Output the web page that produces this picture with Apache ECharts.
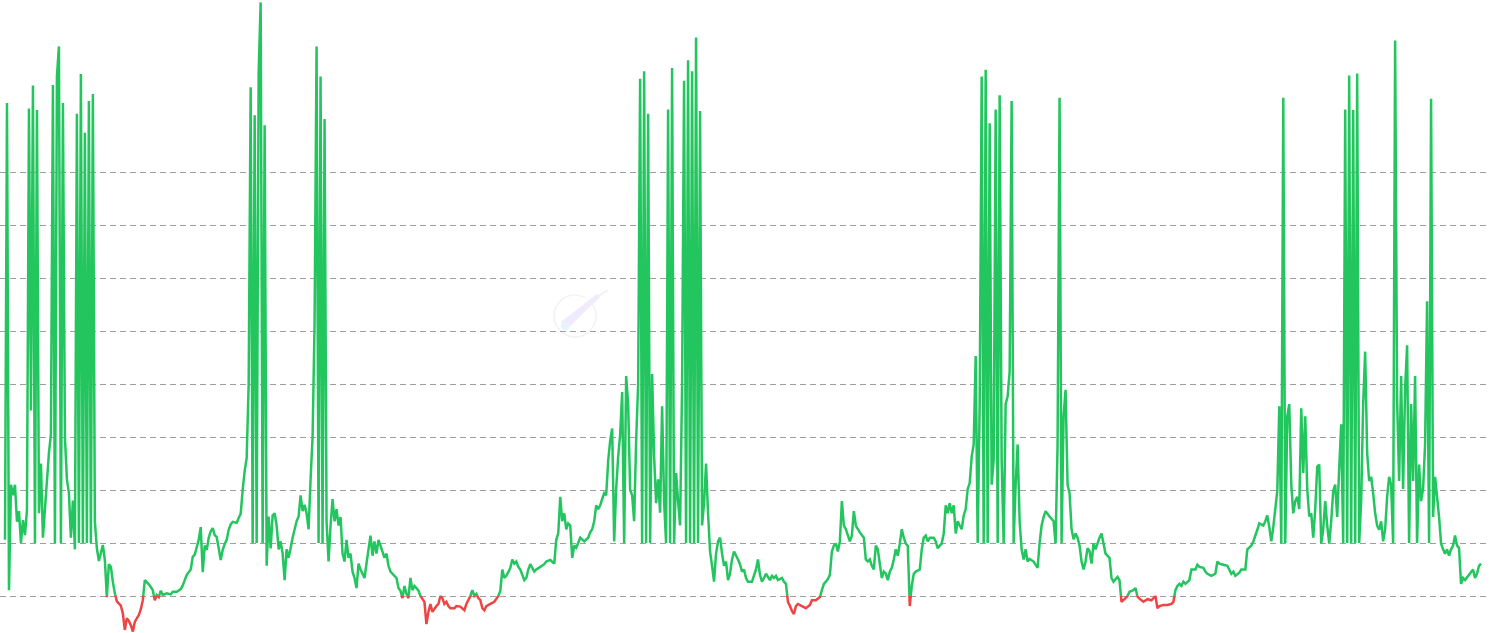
<!DOCTYPE html>
<html>
<head>
<meta charset="utf-8">
<script src="https://cdn.jsdelivr.net/npm/echarts@6/dist/echarts.min.js"></script>
<style>
html,body{margin:0;padding:0;background:#fff;}
#chart{width:1490px;height:633px;}
</style>
</head>
<body>
<div id="chart"></div>
<script>
// Indicator values, sampled uniformly in time, split into consecutive stretches
var stretch01 = [1.06,9.3,0.11,2.1,1.9,2.1,1.4,1.6,1.0,1.43,1.15,1.62,9.2,3.5,9.63,1.0,9.17,1.56,2.5,1.1,1.64,2.17,2.7,3.05,9.64,1.0,9.8,10.37,1.0,9.3,3.0,2.2,1.94,1.1,1.8,0.88,9.1,1.0,9.85,1.0,8.74,1.0,9.34,1.0,9.47,1.4,0.9,0.66,0.81,0.96];
var stretch02 = [0.68,-0.02,0.6,0.55,0.27,0.05,-0.1,-0.08,-0.18,-0.33,-0.64,-0.42,-0.47,-0.55,-0.67,-0.49,-0.42,-0.36,-0.25,-0.08,0.3,0.3,0.22,0.17,0.11,-0.08,0.02,-0.02,0.1,0.02,0.0,0.05,0.03,0.03,0.08,0.08,0.08,0.1,0.13,0.2,0.3,0.4,0.42,0.5,0.74,0.78,0.81,1.06,1.3,0.45];
var stretch03 = [0.95,0.87,1.1,1.22,1.28,1.15,1.11,0.9,0.68,0.87,0.98,1.06,1.25,1.35,1.4,1.4,1.38,1.47,1.55,2.0,2.36,2.6,4.0,9.6,1.0,9.07,1.0,9.87,11.2,1.0,8.88,0.57,1.5,0.9,1.52,1.56,1.33,0.88,1.03,0.8,0.3,0.88,0.72,0.9,1.1,1.1,1.41,1.5,1.9,1.6];
var stretch04 = [1.72,1.56,1.26,2.2,3.0,5.14,10.37,1.0,9.8,1.0,9.0,1.4,0.65,1.33,1.83,1.41,1.64,1.33,1.49,0.8,0.65,1.06,0.72,0.8,0.46,0.34,0.15,0.61,0.5,0.42,0.34,0.61,0.88,1.14,0.76,1.03,0.8,1.06,0.95,0.95,0.72,0.8,0.57,0.46,0.42,0.38,0.34,0.15,0.1,-0.04];
var stretch05 = [0.19,0.04,-0.04,0.34,0.11,0.19,0.15,0.1,0.0,-0.02,-0.11,-0.53,-0.3,-0.15,-0.3,-0.3,-0.19,-0.15,0.0,-0.04,-0.15,-0.11,-0.19,-0.23,-0.23,-0.23,-0.19,-0.21,-0.2,-0.23,-0.27,-0.15,-0.12,0.0,0.11,0.0,0.04,-0.04,-0.08,-0.23,-0.27,-0.19,-0.19,-0.15,-0.15,-0.11,-0.08,0.0,0.1,0.5];
var stretch06 = [0.34,0.38,0.45,0.53,0.69,0.61,0.65,0.55,0.5,0.5,0.3,0.34,0.5,0.6,0.57,0.46,0.5,0.53,0.55,0.57,0.6,0.65,0.66,0.68,0.66,0.61,1.06,1.18,1.87,1.41,1.56,1.26,1.37,1.33,0.72,0.95,0.91,0.88,1.1,1.07,1.03,1.03,1.1,1.2,1.26,1.41,1.71,1.64,1.71,1.83];
var stretch07 = [1.94,1.9,2.55,2.93,3.16,1.03,2.02,2.63,3.05,3.85,1.0,4.15,3.62,2.0,1.9,1.41,2.93,4.0,9.76,1.0,9.9,1.0,9.1,1.0,4.19,2.63,1.75,2.2,1.57,3.58,1.78,1.0,9.18,1.0,9.96,1.0,2.32,1.79,1.33,3.96,9.72,1.0,10.11,1.0,9.9,1.0,10.54,1.0,9.15,1.33];
var stretch08 = [1.75,2.5,1.56,0.84,0.57,0.27,0.8,1.03,1.1,0.8,0.57,0.65,0.3,0.42,0.69,0.84,0.84,0.69,0.6,0.46,0.5,0.34,0.27,0.3,0.27,0.27,0.5,0.69,0.4,0.27,0.34,0.42,0.4,0.3,0.38,0.34,0.38,0.3,0.3,0.34,0.27,0.23,-0.11,-0.19,-0.28,-0.34,-0.19,-0.15,-0.15,-0.19];
var stretch09 = [-0.19,-0.23,-0.22,-0.17,-0.08,-0.11,-0.08,-0.06,-0.02,0.11,0.23,0.27,0.32,0.4,0.84,0.95,0.99,0.84,1.03,1.79,1.33,1.26,1.26,1.03,1.14,1.6,1.33,1.33,1.2,1.18,1.1,0.69,0.65,0.69,0.57,0.5,0.95,0.88,0.6,0.34,0.46,0.42,0.3,0.46,0.53,0.69,0.88,0.76,0.99,1.26];
var stretch10 = [1.1,0.99,0.95,-0.19,0.19,0.42,0.46,0.45,0.5,0.88,1.1,1.14,1.03,1.1,1.07,1.1,1.03,0.9,0.95,0.99,1.18,1.71,1.56,1.75,1.56,1.71,1.18,1.41,1.33,1.26,1.52,1.64,2.02,2.13,2.63,2.86,4.53,1.0,3.62,9.8,1.0,9.93,1.0,8.92,2.1,2.56,9.18,1.0,9.45,2.55];
var stretch11 = [1.0,3.62,3.77,4.23,9.34,1.0,2.1,2.86,1.41,0.88,0.69,0.88,0.65,0.7,0.69,0.65,0.65,0.53,1.0,1.33,1.49,1.6,1.6,1.5,1.52,1.41,0.99,2.86,9.4,1.0,3.39,3.89,2.1,1.94,1.26,1.07,1.18,1.1,0.95,0.65,0.5,0.65,0.9,0.85,0.61,0.99,0.88,0.9,1.1,1.18];
var stretch12 = [0.99,0.8,0.8,0.72,0.34,0.27,0.27,0.36,0.3,-0.11,-0.11,-0.04,0.0,0.08,0.1,0.11,0.15,-0.01,-0.05,-0.04,-0.11,-0.08,-0.06,-0.05,-0.08,-0.05,0.0,-0.23,-0.19,-0.19,-0.17,-0.15,-0.17,-0.17,-0.15,-0.11,0.11,0.19,0.23,0.19,0.27,0.23,0.23,0.3,0.5,0.53,0.5,0.59,0.55,0.53];
var stretch13 = [0.53,0.46,0.42,0.44,0.38,0.38,0.42,0.65,0.61,0.63,0.59,0.57,0.57,0.57,0.42,0.46,0.38,0.38,0.44,0.5,0.51,0.5,0.88,0.88,0.95,1.03,1.03,1.25,1.37,1.37,1.33,1.41,1.52,1.3,1.03,1.3,1.33,1.98,3.58,1.0,9.4,1.0,3.39,3.62,2.1,1.56,1.79,1.87,1.64,3.54];
var stretch14 = [2.32,3.39,2.02,1.5,1.56,1.1,1.64,2.44,2.48,0.99,1.26,1.79,1.33,0.99,1.41,1.98,2.1,1.49,2.4,3.24,1.0,9.18,1.0,9.82,1.0,9.17,1.0,9.86,1.0,1.79,3.62,4.61,2.7,2.17,2.25,1.94,1.56,1.33,1.25,1.41,1.03,1.26,1.87,2.25,2.1,1.0,10.48,3.7,2.17,4.15];
var stretch15 = [2.02,3.92,4.73,1.0,3.62,2.17,4.15,1.0,2.48,1.79,2.02,2.86,5.56,1.0,9.38,1.49,2.25,1.87,1.49,0.99,0.88,0.8,0.88,0.76,0.88,0.95,1.14,0.95,0.91,0.23,0.34,0.3,0.3,0.4,0.42,0.5,0.34,0.42,0.57,0.61];

// Axis ticks (no labels shown in the original)
var yTicks = [-1,0,1,2,3,4,5,6,7,8];
var threshold = 0;

var values = [].concat(stretch01,stretch02,stretch03,stretch04,stretch05,stretch06,stretch07,stretch08,
  stretch09,stretch10,stretch11,stretch12,stretch13,stretch14,stretch15);
var seriesData = values.map(function(v,i){ return [i, v]; });
var n = values.length;

var chart = echarts.init(document.getElementById('chart'), null, {renderer:'canvas'});
chart.setOption({
  animation: false,
  backgroundColor: '#ffffff',
  grid: {left: 0, right: 4, top: 172, height: 477, containLabel: false, outerBoundsMode: 'none'},
  xAxis: {
    type: 'value', min: -2.5, max: n - 1 + 2.5,
    axisLine: {show: false}, axisTick: {show: false}, axisLabel: {show: false},
    splitLine: {show: false}
  },
  yAxis: {
    type: 'value', min: yTicks[0], max: yTicks[yTicks.length-1], interval: 1,
    axisLine: {show: false}, axisTick: {show: false}, axisLabel: {show: false},
    splitLine: {show: true, lineStyle: {color: '#9e9e9e', width: 1, type: [6, 4]}}
  },
  visualMap: {
    type: 'piecewise', show: false, dimension: 1, seriesIndex: 0,
    pieces: [
      {gte: -20, lt: threshold, color: '#ef4444'},
      {gte: threshold, lte: 100, color: '#22c55e'}
    ],
    outOfRange: {color: '#22c55e'}
  },
  graphic: [
    {type: 'arc', shape: {cx: 575, cy: 316, r: 21, startAngle: -0.6, endAngle: 5.2}, style: {stroke: '#f2f2f2', lineWidth: 1.5, fill: null}, silent: true, z: 0},
    {type: 'polygon', shape: {points: [[561,322],[566,330],[600,297],[597,294]]}, style: {fill: '#efebfc'}, silent: true, z: 0},
    {type: 'circle', shape: {cx: 565, cy: 326, r: 4}, style: {fill: '#e8f4fd'}, silent: true, z: 0},
    {type: 'line', shape: {x1: 597, y1: 297, x2: 608, y2: 290}, style: {stroke: '#f0f0f0', lineWidth: 2}, silent: true, z: 0}
  ],
  series: [{
    type: 'line',
    data: seriesData,
    showSymbol: false,
    symbol: 'none',
    sampling: null,
    clip: false,
    lineStyle: {width: 2.5, join: 'miter', miterLimit: 2},
    z: 3
  }]
});
</script>
</body>
</html>
